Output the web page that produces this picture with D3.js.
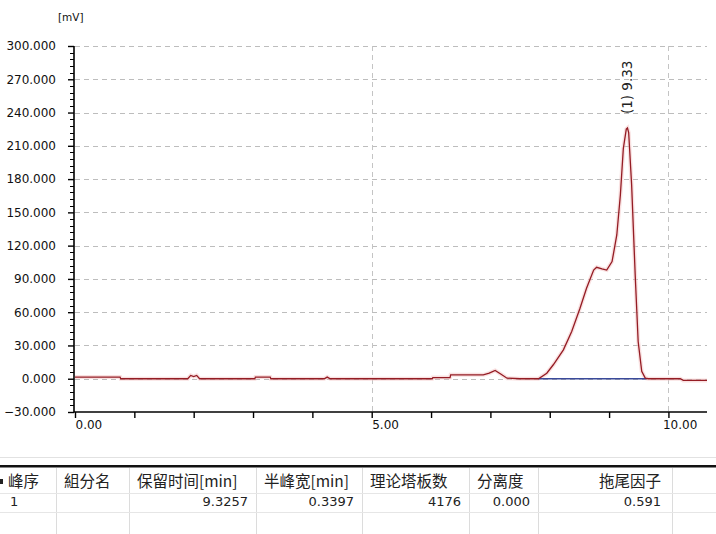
<!DOCTYPE html>
<html>
<head>
<meta charset="utf-8">
<script src="https://cdn.jsdelivr.net/npm/d3@7"></script>
<style>
  body { margin: 0; background: #fff; }
  svg { display: block; }
</style>
</head>
<body>
<div id="chart"></div>
<script>
// chromatogram trace (time in min, signal in mV)
const times  = [0, 0.76, 0.77, 1.9, 1.95, 2.0, 2.05, 2.1, 3.03, 3.04, 3.29, 3.3, 4.2, 4.25, 4.3,
                6.02, 6.03, 6.32, 6.33, 6.88, 6.98, 7.08, 7.18, 7.28, 7.5, 7.81, 7.95, 8.06, 8.23,
                8.37, 8.51, 8.62, 8.74, 8.79, 8.88, 8.96, 9.05, 9.13, 9.19, 9.24, 9.29, 9.31, 9.33,
                9.38, 9.44, 9.49, 9.55, 9.61, 9.66, 10.2, 10.25, 10.65]
const values = [1.5, 1.5, 0, 0, 3, 2, 3, 0, 0, 1.5, 1.5, 0, 0, 1.5, 0,
                0, 1, 1, 3.5, 3.5, 5, 7.5, 4, 0.5, 0, 0, 5, 12.6, 26,
                42.6, 63.6, 81.6, 98, 100.5, 99, 98, 105.6, 129.6, 165.6, 207.6, 225, 226, 222,
                174.6, 93.6, 33.6, 6.6, 0.6, 0, 0, -1.5, -1.5]

// integration baseline of peak 1
const baseTimes  = [7.81, 9.63]
const baseValues = [0, 0]
const peakTime = 9.31, peakValue = 226
const peakLabel = "(1) 9.33"

const yTicks = [-30, 0, 30, 60, 90, 120, 150, 180, 210, 240, 270, 300]
const xTicks = [0, 1, 2, 3, 4, 5, 6, 7, 8, 9, 10]
const xLabelTicks = [0, 5, 10]
const xGrid = [5, 10]

// result table
const headers = ["峰序", "組分名", "保留时间[min]", "半峰宽[min]", "理论塔板数", "分离度", "拖尾因子"]
const row1    = ["1", "", "9.3257", "0.3397", "4176", "0.000", "0.591"]
const colEdges = [0, 56, 129, 256, 362, 469, 538, 672]

const W = 716, H = 534
const svg = d3.select("#chart").append("svg").attr("width", W).attr("height", H)

const x = d3.scaleLinear().domain([0, 10.65]).range([75, 707])
const y = d3.scaleLinear().domain([-30, 300]).range([412, 46])

const axisFont = "'DejaVu Sans', Verdana, sans-serif"

// dashed grid
svg.append("g").selectAll("line")
  .data(yTicks.filter(v => v > -30))
  .join("line")
  .attr("x1", x(0)).attr("x2", 707)
  .attr("y1", d => Math.round(y(d)) + 0.5).attr("y2", d => Math.round(y(d)) + 0.5)
  .attr("stroke", "#bdbdbd").attr("stroke-dasharray", "5,4")

svg.append("g").selectAll("line")
  .data(xGrid)
  .join("line")
  .attr("x1", d => Math.round(x(d)) + 0.5).attr("x2", d => Math.round(x(d)) + 0.5)
  .attr("y1", y(300)).attr("y2", y(-30))
  .attr("stroke", "#c4c4c4").attr("stroke-dasharray", "5,4")

// y axis with minor ticks every 6 mV
const yAxis = d3.axisLeft(y).tickValues(yTicks).tickSize(6).tickFormat(d3.format(".3f"))
const gy = svg.append("g").attr("transform", "translate(74,0)").call(yAxis)
gy.select(".domain").attr("stroke-width", 1.6).attr("d", `M0,${y(300)}V${y(-30)}`)
gy.selectAll(".tick line").attr("stroke-width", 1.4)
gy.selectAll(".tick text").attr("font-family", axisFont).attr("font-size", 12).attr("x", -18).attr("fill", "#111")
const minor = d3.range(-30, 300, 6).filter(v => (v + 30) % 30 !== 0)
svg.append("g").selectAll("line")
  .data(minor)
  .join("line")
  .attr("x1", 70).attr("x2", 74)
  .attr("y1", d => Math.round(y(d)) + 0.5).attr("y2", d => Math.round(y(d)) + 0.5)
  .attr("stroke", "#000")

svg.append("text").attr("x", 58).attr("y", 21)
  .attr("font-family", axisFont).attr("font-size", 10.5).attr("fill", "#111")
  .text("[mV]")

// x axis
const xAxis = d3.axisBottom(x).tickValues(xTicks).tickSize(6)
  .tickFormat(d => xLabelTicks.includes(d) ? d3.format(".2f")(d) : "")
const gx = svg.append("g").attr("transform", `translate(0,${Math.round(y(-30))})`).call(xAxis)
gx.select(".domain").attr("stroke-width", 1.4).attr("d", `M74,0H707`)
gx.selectAll(".tick line").attr("stroke-width", 1.4)
gx.selectAll(".tick text").attr("font-family", axisFont).attr("font-size", 12)
  .attr("text-anchor", "start").attr("dx", d => d >= 10 ? -6 : 0).attr("y", 8).attr("fill", "#111")

// trace
const pts = times.map((t, i) => [t, values[i]])
const line = d3.line().x(d => x(d[0])).y(d => y(d[1]))
svg.append("path").datum(pts).attr("d", line)
  .attr("fill", "none").attr("stroke", "#f3c4c4").attr("stroke-width", 4).attr("opacity", 0.5)

const basePts = baseTimes.map((t, i) => [t, baseValues[i]])
svg.append("path").datum(basePts).attr("d", line)
  .attr("fill", "none").attr("stroke", "#3a4a9a").attr("stroke-width", 1.3)

svg.append("path").datum(pts).attr("d", line)
  .attr("fill", "none").attr("stroke", "#941c24").attr("stroke-width", 1.3)

// peak label
svg.append("text")
  .attr("transform", `translate(${x(peakTime) + 5},${y(peakValue) - 14}) rotate(-90)`)
  .attr("font-family", axisFont).attr("font-size", 13.5).attr("fill", "#222")
  .text(peakLabel)

// table
const tbl = svg.append("g")
tbl.append("line").attr("x1", 0).attr("x2", W).attr("y1", 457.5).attr("y2", 457.5).attr("stroke", "#e2e2e2")
tbl.append("rect").attr("x", 0).attr("y", 465).attr("width", W).attr("height", 2.5).attr("fill", "#111")
tbl.selectAll(".vsep")
  .data(colEdges.slice(1))
  .join("line")
  .attr("x1", d => d + 0.5).attr("x2", d => d + 0.5).attr("y1", 468).attr("y2", H)
  .attr("stroke", "#dcdcdc")
tbl.selectAll(".hsep")
  .data([493, 512])
  .join("line")
  .attr("x1", 0).attr("x2", W).attr("y1", d => d + 0.5).attr("y2", d => d + 0.5)
  .attr("stroke", "#e6e6e6")
tbl.append("rect").attr("x", 0).attr("y", 479).attr("width", 3).attr("height", 5).attr("fill", "#222")

const cjk = "'Noto Sans CJK SC', sans-serif"
tbl.selectAll(".hd")
  .data(headers)
  .join("text")
  .attr("x", (d, i) => i === 6 ? 661 : colEdges[i] + 8)
  .attr("text-anchor", (d, i) => i === 6 ? "end" : "start")
  .attr("y", 487)
  .attr("font-family", cjk).attr("font-size", 15.5).attr("fill", "#222")
  .text(d => d)

tbl.selectAll(".cell")
  .data(row1)
  .join("text")
  .attr("x", (d, i) => i === 0 ? 10 : (i === 6 ? 661 : colEdges[i + 1] - 8))
  .attr("text-anchor", (d, i) => i === 0 ? "start" : "end")
  .attr("y", 506)
  .attr("font-family", "Tahoma, 'DejaVu Sans', sans-serif").attr("font-size", 13).attr("fill", "#222")
  .text(d => d)
</script>
</body>
</html>
